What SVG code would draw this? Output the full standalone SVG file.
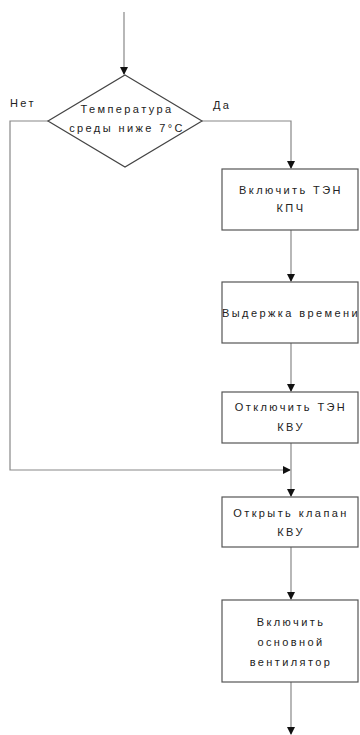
<svg xmlns="http://www.w3.org/2000/svg" width="360" height="735" viewBox="0 0 360 735">
<style>
.node rect{fill:#fff;stroke:#555;stroke-width:1.2}
.node polygon{fill:#fff;stroke:#444;stroke-width:1.2}
.t{font-family:"Liberation Sans",Arial,sans-serif;font-size:11px;letter-spacing:2.4px;fill:#222;text-anchor:middle}
.lbl{font-family:"Liberation Sans",Arial,sans-serif;font-size:11px;letter-spacing:2.4px;fill:#222}
.c{fill:none;stroke:#888;stroke-width:1.2}
</style>
<defs>
<marker id="a" markerWidth="8" markerHeight="8" refX="7" refY="4" orient="auto" markerUnits="userSpaceOnUse">
<path d="M0,0 L8,4 L0,8 Z" fill="#111"/>
</marker>
</defs>
<g id="connectors">
<path class="c" d="M124,12 V74" marker-end="url(#a)"/>
<path class="c" d="M202,121 H291 V168" marker-end="url(#a)"/>
<path class="c" d="M291,230 V281" marker-end="url(#a)"/>
<path class="c" d="M291,343 V391" marker-end="url(#a)"/>
<path class="c" d="M48,121 H10 V470 H290" marker-end="url(#a)"/>
<path class="c" d="M291,443 V496" marker-end="url(#a)"/>
<path class="c" d="M291,547 V599" marker-end="url(#a)"/>
<path class="c" d="M291,682 V734" marker-end="url(#a)"/>
</g>
<g id="decision" class="node">
<polygon points="125,75 202,121 125,167 48,121"/>
<text class="t" x="127" y="113">Температура</text>
<text class="t" x="127" y="132">среды ниже 7°С</text>
</g>
<text class="lbl" x="10" y="107">Нет</text>
<text class="lbl" x="213" y="109">Да</text>
<g id="box1" class="node">
<rect x="222" y="169" width="136" height="61"/>
<text class="t" x="291" y="194">Включить ТЭН</text>
<text class="t" x="291" y="212">КПЧ</text>
</g>
<g id="box2" class="node">
<rect x="222" y="282" width="136" height="61"/>
<text class="t" x="291" y="317">Выдержка времени</text>
</g>
<g id="box3" class="node">
<rect x="222" y="392" width="136" height="51"/>
<text class="t" x="291" y="411">Отключить ТЭН</text>
<text class="t" x="291" y="431">КВУ</text>
</g>
<g id="box4" class="node">
<rect x="222" y="497" width="136" height="50"/>
<text class="t" x="291" y="517">Открыть клапан</text>
<text class="t" x="291" y="536">КВУ</text>
</g>
<g id="box5" class="node">
<rect x="222" y="600" width="136" height="82"/>
<text class="t" x="291" y="626">Включить</text>
<text class="t" x="291" y="646">основной</text>
<text class="t" x="291" y="666">вентилятор</text>
</g>
</svg>
